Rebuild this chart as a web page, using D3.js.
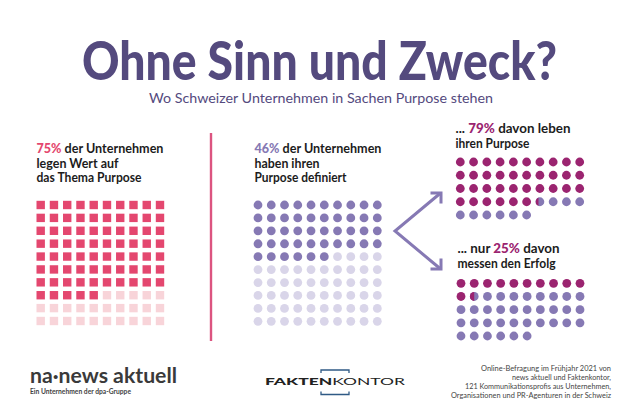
<!DOCTYPE html>
<html>
<head>
<meta charset="utf-8">
<script src="https://cdn.jsdelivr.net/npm/d3@7"></script>
<style>
  html, body { margin: 0; padding: 0; background: #fff; }
  svg { display: block; }
  text { font-family: Lato, "Noto Sans", sans-serif; }
</style>
</head>
<body>
<div id="chart"></div>
<script>
// values
const gridCols = d3.range(10);
const gridRows = d3.range(10);
const smallRows = d3.range(5);
const interestedPct = 75;
const definedPct = 46;
const livePct = 79;
const measurePct = 25;
const smallDots = 46; // the 46% again, one dot per company in the small grids

const pink = '#e4476f';
const pinkLight = '#f8d4d9';
const purple = '#8679b4';
const purpleLight = '#d9d5e9';
const magenta = '#9b2470';
const titleColor = '#544a7e';

const svg = d3.select('#chart')
    .append('svg')
    .attr('width', 640)
    .attr('height', 412);
svg.append('rect').attr('width', 640).attr('height', 412).attr('fill', '#fff');
const defs = svg.append('defs');

function addText(x, y, parts, size, weight, opts = {}) {
  const t = svg.append('text')
      .attr('x', x)
      .attr('y', y)
      .attr('font-size', size)
      .attr('font-weight', weight)
      .attr('text-anchor', opts.anchor || 'start')
      .attr('fill', opts.fill || '#1c1c1c');
  if (opts.length) {
    t.attr('textLength', opts.length).attr('lengthAdjust', 'spacingAndGlyphs');
  }
  parts.forEach(p => {
    t.append('tspan')
        .attr('fill', p.fill || null)
        .attr('font-weight', p.weight || null)
        .text(p.text);
  });
  return t;
}

function xScale(from, to) {
  return d3.scalePoint().domain(gridCols).range([from, to]);
}

function yScale(rows, from, to) {
  return d3.scalePoint().domain(rows).range([from, to]);
}

// title
addText(319.5, 79.5, [{text: 'Ohne Sinn und Zweck?'}], 53, 900,
    {anchor: 'middle', fill: titleColor, length: 475});
addText(321, 103, [{text: 'Wo Schweizer Unternehmen in Sachen Purpose stehen'}], 14, 400,
    {anchor: 'middle', fill: titleColor, length: 344});

// left block: squares
addText(36.5, 153, [{text: interestedPct + '%', fill: pink, weight: 900}, {text: ' der Unternehmen'}], 13.5, 700, {length: 127});
addText(36.5, 167.5, [{text: 'legen Wert auf'}], 13.5, 700, {length: 82});
addText(36.5, 182, [{text: 'das Thema Purpose'}], 13.5, 700, {length: 105});

const leftX = xScale(40.7, 160);
const leftY = yScale(gridRows, 205, 321);
const squareSize = 8.4;
gridRows.forEach(r => {
  svg.append('g').selectAll('rect')
      .data(gridCols)
      .join('rect')
      .attr('x', c => leftX(c) - squareSize / 2)
      .attr('y', leftY(r) - squareSize / 2)
      .attr('width', squareSize)
      .attr('height', squareSize)
      .attr('fill', c => r * 10 + c < interestedPct ? pink : pinkLight);
});

// divider
svg.append('line')
    .attr('x1', 211).attr('x2', 211)
    .attr('y1', 133).attr('y2', 341)
    .attr('stroke', '#dc5480')
    .attr('stroke-width', 2.4);

// middle block: dots
addText(254.5, 153, [{text: definedPct + '%', fill: purple, weight: 900}, {text: ' der Unternehmen'}], 13.5, 700, {length: 127});
addText(254.5, 167.5, [{text: 'haben ihren'}], 13.5, 700, {length: 65});
addText(254.5, 182, [{text: 'Purpose definiert'}], 13.5, 700, {length: 92});

const midX = xScale(258, 377.3);
const midY = yScale(gridRows, 205, 321.3);
gridRows.forEach(r => {
  svg.append('g').selectAll('circle')
      .data(gridCols)
      .join('circle')
      .attr('cx', c => midX(c))
      .attr('cy', midY(r))
      .attr('r', 4.4)
      .attr('fill', c => r * 10 + c < definedPct ? purple : purpleLight);
});

// arrows
const arrowLine = d3.line();
const arrows = [
  [[440, 193.5], [395, 231], [440, 268.5]],
  [[430.5, 193], [441, 193], [441, 203.5]],
  [[441, 258.5], [441, 269], [430.5, 269]]
];
arrows.forEach(a => {
  svg.append('path')
      .attr('d', arrowLine(a))
      .attr('fill', 'none')
      .attr('stroke', purple)
      .attr('stroke-width', 3);
});

// right blocks: share of the 46 dots
function smallGrid(id, pct, x, y) {
  const filled = smallDots * pct / 100;
  const whole = Math.floor(filled);
  const frac = filled - whole;
  const r = 4.4;
  const dots = d3.range(smallDots);
  const col = i => i % 10;
  const row = i => Math.floor(i / 10);
  svg.append('g').selectAll('circle')
      .data(dots)
      .join('circle')
      .attr('cx', i => x(col(i)))
      .attr('cy', i => y(row(i)))
      .attr('r', r)
      .attr('fill', i => i < whole ? magenta : purple);
  // the one dot that is only partly filled
  defs.append('clipPath')
      .attr('id', id)
      .append('rect')
      .attr('x', x(col(whole)) - r)
      .attr('y', y(row(whole)) - r)
      .attr('width', 2 * r * frac)
      .attr('height', 2 * r);
  svg.append('circle')
      .attr('cx', x(col(whole)))
      .attr('cy', y(row(whole)))
      .attr('r', r)
      .attr('fill', magenta)
      .attr('clip-path', `url(#${id})`);
}

addText(455.5, 133, [{text: '... '}, {text: livePct + '%', fill: magenta, weight: 900}, {text: ' davon leben'}], 13.5, 700,
    {length: 115});
addText(455.5, 147.5, [{text: 'ihren Purpose'}], 13.5, 700, {length: 74});
smallGrid('partTop', livePct, xScale(460.3, 579.7), yScale(smallRows, 162, 215));

addText(457.5, 253, [{text: '... nur '}, {text: measurePct + '%', fill: magenta, weight: 900}, {text: ' davon'}], 13.5, 700,
    {length: 102});
addText(457.5, 268, [{text: 'messen den Erfolg'}], 13.5, 700, {length: 98});
smallGrid('partBottom', measurePct, xScale(461, 580), yScale(smallRows, 283.3, 336));

// logos
addText(30, 383, [{text: 'na·news aktuell'}], 21, 700, {fill: '#3a3a3a', length: 147});
addText(30, 394, [{text: 'Ein Unternehmen der dpa-Gruppe'}], 7, 700, {fill: '#444', length: 101});

addText(265, 385, [{text: 'FAKTEN', weight: 900}, {text: 'KONTOR', weight: 400}], 10, 400,
    {fill: '#222', length: 140});
[[[321, 373], [321, 370], [349, 370], [349, 373]], [[321, 391.5], [321, 394.5], [349, 394.5], [349, 391.5]]].forEach(b => {
  svg.append('path')
      .attr('d', arrowLine(b))
      .attr('fill', 'none')
      .attr('stroke', '#2f5a85')
      .attr('stroke-width', 1.3);
});

// source note
const noteLines = [
  'Online-Befragung im Frühjahr 2021 von',
  'news aktuell und Faktenkontor,',
  '121 Kommunikationsprofis aus Unternehmen,',
  'Organisationen und PR-Agenturen in der Schweiz'
];
const noteLengths = [130, 99, 146, 160];
const noteY = d3.scalePoint().domain(d3.range(4)).range([371, 398]);
noteLines.forEach((line, i) => {
  addText(611, noteY(i), [{text: line}], 8, 400, {anchor: 'end', fill: '#444', length: noteLengths[i]});
});
</script>
</body>
</html>
